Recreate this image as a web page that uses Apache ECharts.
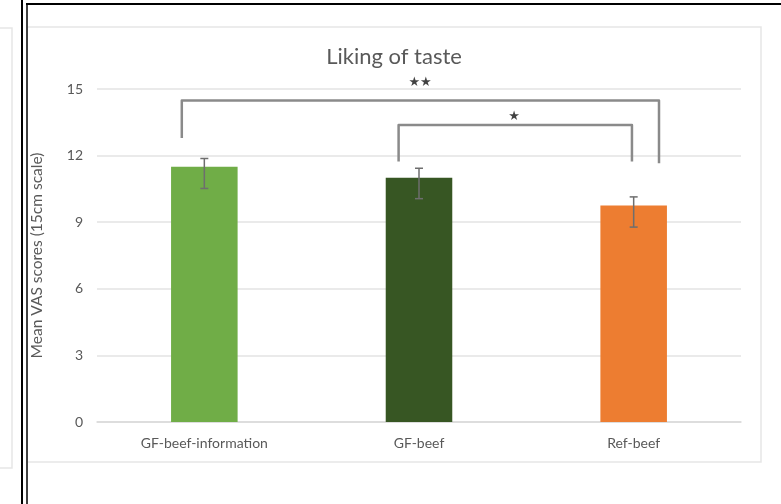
<!DOCTYPE html>
<html>
<head>
<meta charset="utf-8">
<style>
  html, body { margin: 0; padding: 0; background: #fff; }
  #chart { width: 781px; height: 504px; }
</style>
<script src="https://cdn.jsdelivr.net/npm/echarts@6/dist/echarts.min.js"></script>
</head>
<body>
<div id="chart"></div>
<script>
// Groups and their mean liking scores
const categories = ['GF-beef-information', 'GF-beef', 'Ref-beef'];
const means = [11.5, 11.0, 9.75];
const errHigh = [11.87, 11.43, 10.14];
const errLow = [10.52, 10.06, 8.78];
const barColors = ['#70AD47', '#375623', '#ED7D31'];
const yTicks = [0, 3, 6, 9, 12, 15];

// Significance brackets: [x, y] paths in category-index / score units
const bracketOuter = [[-0.105, 12.79], [-0.105, 14.48], [2.118, 14.48], [2.118, 11.66]];
const bracketInner = [[0.905, 11.73], [0.905, 13.38], [1.992, 13.38], [1.992, 11.73]];
const starMarks = [[1.005, 15.3, '★★'], [1.443, 13.76, '★']];

const FONT = 'Lato';
const TEXT = '#595959';

const chart = echarts.init(document.getElementById('chart'), null, { renderer: 'canvas' });

const errorSeries = {
  type: 'custom',
  xAxisIndex: 0,
  z: 5,
  renderItem: function (params, api) {
    const i = api.value(0);
    const top = api.coord([i, api.value(1)]);
    const bot = api.coord([i, api.value(2)]);
    const cap = 4;
    const style = { stroke: '#6e6e6e', lineWidth: 1.5 };
    return {
      type: 'group',
      children: [
        { type: 'line', shape: { x1: top[0], y1: top[1], x2: bot[0], y2: bot[1] }, style: style },
        { type: 'line', shape: { x1: top[0] - cap, y1: top[1], x2: top[0] + cap, y2: top[1] }, style: style },
        { type: 'line', shape: { x1: bot[0] - cap, y1: bot[1], x2: bot[0] + cap, y2: bot[1] }, style: style }
      ]
    };
  },
  data: categories.map((c, i) => [i, errHigh[i], errLow[i]])
};

const bracketStyle = { color: '#8a8a8a', width: 2.5, join: 'round' };

const option = {
  animation: false,
  backgroundColor: '#ffffff',
  title: {
    text: 'Liking of taste',
    left: 389,
    top: 41,
    textAlign: 'center',
    textStyle: { fontFamily: FONT, fontSize: 22, fontWeight: 'normal', color: TEXT }
  },
  grid: { left: 97, right: 40, top: 89, bottom: 82 },
  xAxis: [
    {
      type: 'category',
      data: categories,
      axisLine: { show: true, lineStyle: { color: '#d9d9d9', width: 1.5 } },
      axisTick: { show: false },
      axisLabel: { fontFamily: FONT, fontSize: 14, color: TEXT, margin: 14 }
    },
    {
      type: 'value',
      min: -0.5,
      max: 2.5,
      show: false
    }
  ],
  yAxis: {
    type: 'value',
    min: 0,
    max: 15,
    interval: 3,
    name: 'Mean VAS scores (15cm scale)',
    nameLocation: 'middle',
    nameGap: 52,
    nameTextStyle: { fontFamily: FONT, fontSize: 15.5, color: TEXT },
    axisLine: { show: false },
    axisTick: { show: false },
    axisLabel: {
      fontFamily: FONT, fontSize: 14, color: TEXT, margin: 14,
      formatter: v => (yTicks.indexOf(v) >= 0 ? String(v) : '')
    },
    splitLine: { lineStyle: { color: '#e3e3e3', width: 1.5 } }
  },
  graphic: [
    // frame lines around the panels
    { type: 'line', shape: { x1: 22, y1: 0, x2: 22, y2: 504 }, style: { stroke: '#000', lineWidth: 2 } },
    { type: 'line', shape: { x1: 27, y1: 4, x2: 27, y2: 504 }, style: { stroke: '#000', lineWidth: 1.5 } },
    { type: 'line', shape: { x1: 26, y1: 4, x2: 781, y2: 4 }, style: { stroke: '#000', lineWidth: 2 } },
    { type: 'polyline', shape: { points: [[0, 28], [12, 28], [12, 468], [0, 468]] }, style: { stroke: '#e6e6e6', lineWidth: 1.5, fill: null } },
    { type: 'polyline', shape: { points: [[28, 27], [761, 27], [761, 462], [28, 462]] }, style: { stroke: '#e6e6e6', lineWidth: 1.5, fill: null } }
  ],
  series: [
    {
      type: 'bar',
      xAxisIndex: 0,
      barWidth: '31%',
      data: means.map((v, i) => ({ value: v, itemStyle: { color: barColors[i] } }))
    },
    errorSeries,
    {
      type: 'line',
      xAxisIndex: 1,
      data: bracketOuter,
      symbol: 'none',
      lineStyle: bracketStyle,
      z: 4
    },
    {
      type: 'line',
      xAxisIndex: 1,
      data: bracketInner,
      symbol: 'none',
      lineStyle: bracketStyle,
      z: 4
    },
    {
      type: 'scatter',
      xAxisIndex: 1,
      symbolSize: 0,
      clip: false,
      data: starMarks.map(s => ({ value: [s[0], s[1]], label: { formatter: s[2] } })),
      label: {
        show: true,
        position: 'inside',
        fontFamily: 'DejaVu Sans',
        fontSize: 13,
        color: '#111'
      },
      z: 6
    }
  ]
};

chart.setOption(option);
</script>
</body>
</html>
